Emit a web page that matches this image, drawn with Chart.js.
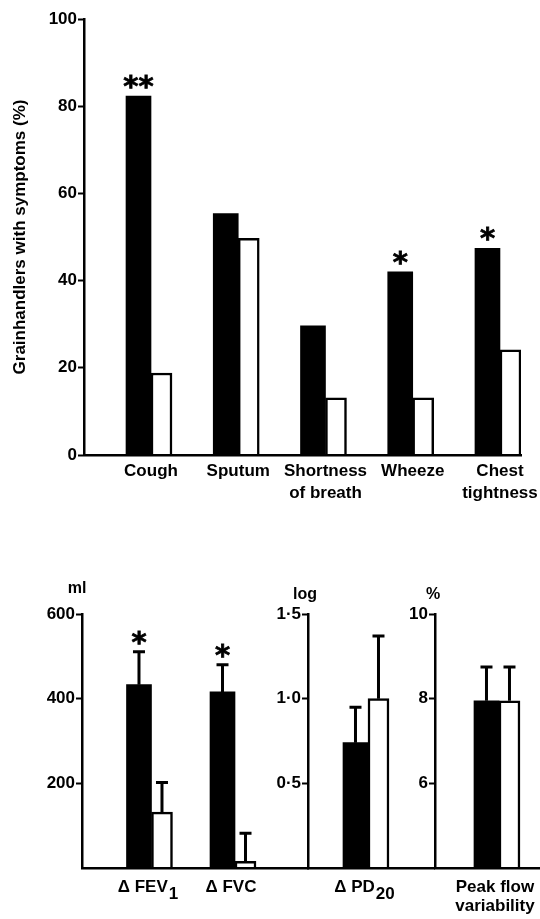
<!DOCTYPE html>
<html><head><meta charset="utf-8">
<script src="https://cdn.jsdelivr.net/npm/chart.js@4.4.1/dist/chart.umd.min.js"></script>
<style>
html,body{margin:0;padding:0;background:#fff;overflow:hidden}
#wrap{position:relative;width:540px;height:919px;background:#fff}
canvas{position:absolute}
</style></head><body>
<div id="wrap">
<canvas id="top" width="540" height="520" style="left:0px;top:0px"></canvas>
<canvas id="b1" width="310" height="349" style="left:0px;top:570px"></canvas>
<canvas id="b2" width="185" height="349" style="left:250px;top:570px"></canvas>
<canvas id="b3" width="163" height="349" style="left:377px;top:570px"></canvas>
</div>
<script>
// ---------- data ----------
const symptomLabels = ['Cough', 'Sputum', ['Shortness', 'of breath'], 'Wheeze', ['Chest', 'tightness']];
const grainSymptoms = [82.3, 55.4, 29.6, 42.0, 47.4];
const ctrlSymptoms = [18.8, 49.7, 13.1, 13.1, 24.1];
const symptomSig = ['**', '', '', '*', '*'];
const symptomTicks = [0, 20, 40, 60, 80, 100];
const symptomTitle = 'Grainhandlers with symptoms (%)';

const ventLabels = ['\u0394 FEV', '\u0394 FVC'];
const ventSubs = ['1', ''];
const ventGrain = [433, 416];
const ventGrainSE = [78, 64];
const ventCtrl = [132, 16];
const ventCtrlSE = [70, 66];
const ventSig = ['*', '*'];
const ventTicks = [200, 400, 600];

const pdLabels = ['\u0394 PD'];
const pdSubs = ['20'];
const pdGrain = [0.74];
const pdGrainSE = [0.21];
const pdCtrl = [1.0];
const pdCtrlSE = [0.37];
const pdTicks = [0.5, 1.0, 1.5];

const pefLabels = [['Peak flow', 'variability']];
const pefSubs = [''];
const pefGrain = [7.95];
const pefGrainSE = [0.8];
const pefCtrl = [7.95];
const pefCtrlSE = [0.8];
const pefTicks = [6, 8, 10];

// ---------- styling ----------
const FONT = '"Liberation Sans", Arial, Helvetica, sans-serif';
Chart.defaults.font.family = FONT;
Chart.defaults.color = '#000';
const AXW = 2.5;

const toXY = arr => arr.map((v, i) => ({x: i, y: v}));

const errorPlugin = {
  id: 'errBars',
  afterDatasetsDraw(chart) {
    const ctx = chart.ctx, ys = chart.scales.y;
    chart.data.datasets.forEach((ds, di) => {
      if (!ds.se) return;
      const meta = chart.getDatasetMeta(di);
      meta.data.forEach((el, i) => {
        const yTop = ys.getPixelForValue(ds.data[i].y + ds.se[i]);
        ctx.save();
        ctx.strokeStyle = '#000'; ctx.lineWidth = 3; ctx.lineCap = 'butt';
        ctx.beginPath();
        ctx.moveTo(el.x, el.y); ctx.lineTo(el.x, yTop);
        ctx.moveTo(el.x - 6, yTop); ctx.lineTo(el.x + 6, yTop);
        ctx.stroke();
        ctx.restore();
      });
    });
  }
};

const sigPlugin = {
  id: 'sigMarks',
  afterDatasetsDraw(chart) {
    const ctx = chart.ctx, ys = chart.scales.y;
    chart.data.datasets.forEach((ds, di) => {
      if (!ds.sig) return;
      const meta = chart.getDatasetMeta(di);
      meta.data.forEach((el, i) => {
        const s = ds.sig[i];
        if (!s) return;
        let top = el.y;
        if (ds.se) top = ys.getPixelForValue(ds.data[i].y + ds.se[i]);
        ctx.save();
        ctx.font = 'bold 29px "DejaVu Sans", ' + FONT;
        ctx.fillStyle = '#000'; ctx.strokeStyle = '#000'; ctx.lineWidth = 0.8;
        ctx.textAlign = 'center'; ctx.textBaseline = 'alphabetic';
        const m = ctx.measureText(s);
        const y = top - 7 - m.actualBoundingBoxDescent;
        ctx.fillText(s, el.x, y);
        ctx.strokeText(s, el.x, y);
        ctx.restore();
      });
    });
  }
};

const unitPlugin = {
  id: 'unitLabel',
  afterDraw(chart, args, opts) {
    if (!opts || !opts.text) return;
    const ctx = chart.ctx, a = chart.chartArea;
    ctx.save();
    ctx.font = 'bold 16px ' + FONT;
    ctx.fillStyle = '#000'; ctx.textAlign = 'center'; ctx.textBaseline = 'middle';
    ctx.fillText(opts.text, a.left + opts.dx, a.top + opts.dy);
    ctx.restore();
  }
};

const axisLabelPlugin = {
  id: 'axisLabels',
  afterDraw(chart, args, opts) {
    if (!opts || !opts.labels) return;
    const ctx = chart.ctx, xs = chart.scales.x, bottom = chart.chartArea.bottom;
    ctx.save();
    ctx.font = 'bold 17px ' + FONT;
    ctx.fillStyle = '#000'; ctx.textAlign = 'left'; ctx.textBaseline = 'alphabetic';
    opts.labels.forEach((lab, i) => {
      const lines = Array.isArray(lab) ? lab : [lab];
      const sub = opts.subs[i] || '';
      const cx = xs.getPixelForValue(i) + opts.dx;
      lines.forEach((line, k) => {
        const y = bottom + opts.first + k * opts.gap;
        const w = ctx.measureText(line).width;
        const sw = (sub && k === lines.length - 1) ? ctx.measureText(sub).width : 0;
        const x0 = cx - (w + sw) / 2;
        ctx.fillText(line, x0, y);
        if (sw) ctx.fillText(sub, x0 + w + 1, y + 7);
      });
    });
    ctx.restore();
  }
};

function barDatasets(black, white, blackSE, whiteSE, sig) {
  return [
    {label: 'Grainhandlers', data: toXY(black), backgroundColor: '#000', borderWidth: 0,
     barThickness: 25, se: blackSE, sig: sig},
    {label: 'Controls', data: toXY(white), backgroundColor: '#fff', borderColor: '#000',
     borderWidth: 2.5, barThickness: 21, se: whiteSE}
  ];
}

// ---------- top chart ----------
new Chart(document.getElementById('top'), {
  type: 'bar',
  data: {datasets: barDatasets(grainSymptoms, ctrlSymptoms, null, null, symptomSig)},
  options: {
    responsive: false, animation: false,
    layout: {padding: {top: 19, right: 19, bottom: 15, left: 0}},
    plugins: {legend: {display: false}, tooltip: {enabled: false}},
    scales: {
      x: {
        type: 'linear', offset: false, min: -0.768, max: 4.241,
        afterBuildTicks: s => { s.ticks = symptomLabels.map((_, i) => ({value: i})); },
        afterFit: s => { s.height = 50; s.paddingLeft = 0; s.paddingRight = 0; },
        ticks: {callback: v => symptomLabels[v], autoSkip: false, maxRotation: 0,
                font: {size: 17, weight: 'bold', lineHeight: 1.3}, padding: 5, color: '#000'},
        grid: {display: false, drawTicks: false},
        border: {display: true, color: '#000', width: AXW, z: 1}
      },
      y: {
        min: 0, max: 100,
        afterBuildTicks: s => { s.ticks = symptomTicks.map(v => ({value: v})); },
        afterFit: s => { s.width = 84; },
        ticks: {font: {size: 17, weight: 'bold'}, padding: 1, color: '#000'},
        grid: {display: true, drawOnChartArea: false, drawTicks: true, tickLength: 6, tickWidth: 2, tickColor: '#000'},
        border: {display: true, color: '#000', width: AXW, z: 1},
        title: {display: true, text: symptomTitle, color: '#000',
                font: {size: 17, weight: 'bold', lineHeight: 1.2}, padding: {top: 10, bottom: 0}}
      }
    }
  },
  plugins: [sigPlugin]
});

// ---------- bottom charts ----------
function bottomChart(id, cfg) {
  new Chart(document.getElementById(id), {
    type: 'bar',
    data: {datasets: barDatasets(cfg.black, cfg.white, cfg.blackSE, cfg.whiteSE, cfg.sig)},
    options: {
      responsive: false, animation: false,
      layout: {padding: {top: 44, right: cfg.padRight, bottom: 51, left: 0}},
      plugins: {
        legend: {display: false}, tooltip: {enabled: false},
        unitLabel: {text: cfg.unit, dx: cfg.unitDx, dy: cfg.unitDy},
        axisLabels: {labels: cfg.labels, subs: cfg.subs, dx: -4, first: 24, gap: 19}
      },
      scales: {
        x: {
          type: 'linear', offset: false, min: cfg.xmin, max: cfg.xmax,
          ticks: {display: false},
          grid: {display: false, drawTicks: false},
          border: {display: true, color: '#000', width: AXW, z: 1}
        },
        y: {
          min: cfg.ymin, max: cfg.ymax,
          afterBuildTicks: s => { s.ticks = cfg.ticks.map(v => ({value: v})); },
          afterFit: s => { s.width = cfg.yWidth; },
          ticks: {font: {size: 17, weight: 'bold'}, padding: 1, color: '#000', callback: cfg.fmt},
          grid: {display: true, drawOnChartArea: false, drawTicks: true, tickLength: 6, tickWidth: 2, tickColor: '#000'},
          border: {display: true, color: '#000', width: AXW, z: 1}
        }
      }
    },
    plugins: [errorPlugin, sigPlugin, unitPlugin, axisLabelPlugin]
  });
}

const dotFmt = v => v.toFixed(1).replace('.', '\u00B7');

bottomChart('b1', {
  black: ventGrain, white: ventCtrl, blackSE: ventGrainSE, whiteSE: ventCtrlSE, sig: ventSig,
  labels: ventLabels, subs: ventSubs, unit: 'ml', unitDx: -5, unitDy: -25,
  ymin: 0, ymax: 600, ticks: ventTicks, fmt: v => String(v),
  xmin: -0.832, xmax: 1.874, yWidth: 82, padRight: 2
});
bottomChart('b2', {
  black: pdGrain, white: pdCtrl, blackSE: pdGrainSE, whiteSE: pdCtrlSE, sig: null,
  labels: pdLabels, subs: pdSubs, unit: 'log', unitDx: -3, unitDy: -19,
  ymin: 0, ymax: 1.5, ticks: pdTicks, fmt: dotFmt,
  xmin: -1, xmax: 1.117, yWidth: 58, padRight: 0
});
bottomChart('b3', {
  black: pefGrain, white: pefCtrl, blackSE: pefGrainSE, whiteSE: pefCtrlSE, sig: null,
  labels: pefLabels, subs: pefSubs, unit: '%', unitDx: -2, unitDy: -19,
  ymin: 4, ymax: 10, ticks: pefTicks, fmt: v => String(v),
  xmin: -1, xmax: 0.641, yWidth: 58, padRight: 0
});
</script>
</body></html>
